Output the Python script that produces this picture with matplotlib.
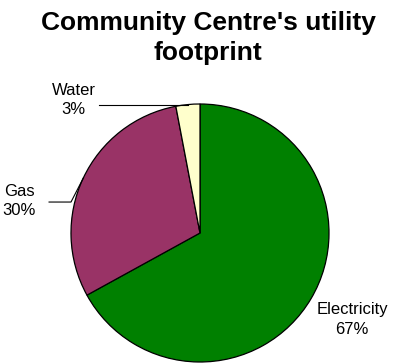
import numpy as np
import matplotlib.pyplot as plt

plt.rcParams['font.family'] = ['Liberation Sans', 'DejaVu Sans']

labels = ['Electricity', 'Gas', 'Water']
shares = [67, 30, 3]
colors = ['#008000', '#993366', '#FFFFCC']

# label placement, in pie-radius units, and whether a leader line is drawn
label_pos = [(1.18, -0.67), (-1.40, 0.25), (-0.98, 1.03)]
leader = [False, True, True]

W, H = 396, 363
R = 129.0          # pie radius in pixels
cx, cy = 200, 233  # pie centre in pixels (from top-left)

fig = plt.figure(figsize=(W / 100, H / 100), dpi=100)
ax = fig.add_axes([0, 0, 1, 1])

wedges, _ = ax.pie(shares, colors=colors, startangle=90, counterclock=False,
                   wedgeprops=dict(edgecolor='black', linewidth=0.9))

ax.set_xlim(-cx / R, (W - cx) / R)
ax.set_ylim((cy - H) / R, cy / R)
ax.set_aspect('auto')
ax.axis('off')

for w, lab, val, (tx, ty), has_line in zip(wedges, labels, shares, label_pos, leader):
    ang = np.deg2rad((w.theta1 + w.theta2) / 2)
    ex, ey = np.cos(ang), np.sin(ang)
    ax.text(tx, ty, f"{lab}\n{val}%", ha='center', va='center',
            fontsize=12, linespacing=1.35)
    if has_line:
        if lab == 'Water':
            ax.plot([tx + 0.2, ex], [ey, ey], color='black', lw=0.8)
        else:
            ax.plot([tx + 0.23, tx + 0.4, ex], [ty - 0.01, ty - 0.01, ey],
                    color='black', lw=0.8)

fig.text(208 / W, 1 - 38 / H, "Community Centre's utility\nfootprint",
         ha='center', va='center', fontsize=19, fontweight='bold',
         linespacing=1.3)

fig.savefig('out.png', dpi=100)
